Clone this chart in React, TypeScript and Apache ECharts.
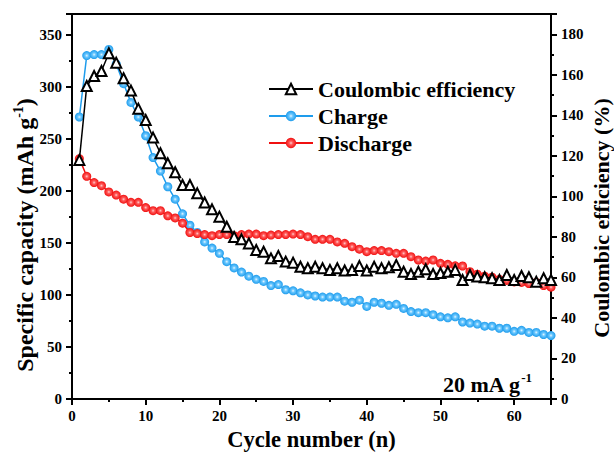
import React, { useEffect, useRef } from "react";
import * as echarts from "echarts";

const cycles = [1,2,3,4,5,6,7,8,9,10,11,12,13,14,15,16,17,18,19,20,21,22,23,24,25,26,27,28,29,30,31,32,33,34,35,36,37,38,39,40,41,42,43,44,45,46,47,48,49,50,51,52,53,54,55,56,57,58,59,60,61,62,63,64,65];

const charge = [271,330,331,331,336,322,303,285,271,253,232,219,204,192,178,167,160,151,145,140,132,126,122,118,115,113,109,110,105,104,102,100,99,98,98,98,94,93,95,89,93,92,90,91,87,84,83,83,81,79,78,79,74,73,72,70,70,68,68,65,66,64,64,62,61];

const discharge = [231,214,208,205,199,196,192,189,189,184,181,181,176,174,169,160,159,158,157,158,158,157,158,158.5,158.5,157,157.5,158,158,158.5,158,156,153.5,153.5,153.5,151,149.6,146.4,144,141.6,142.6,142.6,141.6,140,140,136.8,133.6,132.6,133.6,130.4,129.4,128,127.8,122.4,120,118,117,115,114,112.5,112,111,112,109,107.5];

const coulombic = [118,154.5,159.4,161.9,170.6,166,158.3,152.2,143.3,137.7,129,121.3,116.3,111.9,105.6,105.6,101.5,97,93.6,90,85,80,78.8,76.8,73.5,72.7,69.4,70.6,67.8,67.3,65.3,64.5,65.3,64.5,63.7,64.5,63.4,63.7,65.6,63.4,65.3,64.5,65,66.1,62.8,61.7,62.8,64,61.7,62.2,62.8,63.7,58.7,61.2,60.4,60.1,59.6,58.7,61.2,58.7,60.7,60.1,57.9,59.6,58.7];

const FONT = "Liberation Serif";

export default function App() {
  const ref = useRef<HTMLDivElement>(null);
  useEffect(() => {
    if (!ref.current) return;
    const chart = echarts.init(ref.current, null, { renderer: "svg" });
    const blueGrad = {
      type: "radial", x: 0.5, y: 0.5, r: 0.5,
      colorStops: [
        { offset: 0, color: "#e8f6ff" },
        { offset: 0.35, color: "#6cc8ff" },
        { offset: 1, color: "#1e9cec" },
      ],
    };
    const redGrad = {
      type: "radial", x: 0.5, y: 0.5, r: 0.5,
      colorStops: [
        { offset: 0, color: "#ffd0d0" },
        { offset: 0.35, color: "#ff5a5a" },
        { offset: 1, color: "#f01010" },
      ],
    };
    const toPairs = (arr: number[]) => cycles.map((c, i) => [c, arr[i]]);
    const labelStyle = { color: "#000", fontFamily: FONT, fontWeight: "bold", fontSize: 15 };
    const bigRich = {
      a: { fontFamily: FONT, fontWeight: "bold", fontSize: 22, fill: "#000", lineHeight: 26 },
      b: { fontFamily: FONT, fontWeight: "bold", fontSize: 13, fill: "#000", verticalAlign: "top", lineHeight: 26 },
    };
    const leftRich = {
      a: { fontFamily: FONT, fontWeight: "bold", fontSize: 24, fill: "#000", lineHeight: 28 },
      b: { fontFamily: FONT, fontWeight: "bold", fontSize: 14, fill: "#000", verticalAlign: "top", lineHeight: 28 },
    };
    const axisCommon = {
      axisLine: { show: true, lineStyle: { color: "#000", width: 2 } },
      axisTick: { show: true, inside: false, length: 6, lineStyle: { color: "#000", width: 2 } },
      minorTick: { show: true, splitNumber: 2, length: 3, lineStyle: { color: "#000", width: 2 } },
      splitLine: { show: false },
    };
    chart.setOption({
      animation: false,
      backgroundColor: "#fff",
      grid: {
        left: 72, right: 63, top: 14, bottom: 56,
        show: true, borderColor: "#000", borderWidth: 2,
        outerBoundsMode: "none",
      },
      legend: {
        orient: "vertical",
        left: 263,
        top: 73,
        itemWidth: 44,
        itemHeight: 13,
        itemGap: 5,
        data: ["Coulombic efficiency", "Charge", "Discharge"],
        textStyle: { fontFamily: FONT, fontWeight: "bold", fontSize: 22, color: "#000", lineHeight: 22 },
      },
      xAxis: {
        type: "value",
        min: 0, max: 65, interval: 10,
        name: "Cycle number (n)",
        nameLocation: "middle",
        nameGap: 29,
        nameTextStyle: { fontFamily: FONT, fontWeight: "bold", fontSize: 22.5, color: "#000" },
        ...axisCommon,
        axisLabel: { ...labelStyle, margin: 9, showMaxLabel: false },
      },
      yAxis: [
        {
          type: "value",
          min: 0, max: 370, interval: 50,
          position: "left",
          ...axisCommon,
          axisLabel: { ...labelStyle, margin: 10, showMaxLabel: false },
        },
        {
          type: "value",
          min: 0, max: 190, interval: 20,
          position: "right",
          ...axisCommon,
          axisLabel: { ...labelStyle, margin: 10, showMaxLabel: false },
        },
      ],
      graphic: [
        {
          type: "text",
          x: 25,
          y: 235,
          rotation: Math.PI / 2,
          style: {
            text: "{a|Specific capacity (mAh g}{b|-1}{a|)}",
            rich: leftRich,
            align: "center",
            verticalAlign: "middle",
          },
        },
        {
          type: "text",
          x: 601,
          y: 218,
          rotation: Math.PI / 2,
          style: {
            text: "Coulombic efficiency (%)",
            fontFamily: FONT,
            fontWeight: "bold",
            fontSize: 22,
            fill: "#000",
            align: "center",
            verticalAlign: "middle",
          },
        },
        {
          type: "text",
          left: 443,
          top: 371,
          style: {
            text: "{a|20 mA g}{b|-1}",
            rich: bigRich,
          },
        },
      ],
      series: [
        {
          name: "Charge",
          type: "line",
          yAxisIndex: 0,
          data: toPairs(charge),
          symbol: "circle",
          symbolSize: 9,
          itemStyle: { color: blueGrad },
          lineStyle: { color: "#1e9cec", width: 1.5 },
          z: 2,
        },
        {
          name: "Discharge",
          type: "line",
          yAxisIndex: 0,
          data: toPairs(discharge),
          symbol: "circle",
          symbolSize: 9,
          itemStyle: { color: redGrad },
          lineStyle: { color: "#f01010", width: 1.5 },
          z: 3,
        },
        {
          name: "Coulombic efficiency",
          type: "line",
          yAxisIndex: 1,
          data: toPairs(coulombic),
          symbol: "emptyTriangle",
          symbolSize: 10,
          itemStyle: { color: "#000", borderWidth: 1.5 },
          lineStyle: { color: "#000", width: 1.5 },
          z: 4,
        },
      ],
    });
    return () => chart.dispose();
  }, []);
  return (
    <div
      ref={ref}
      style={{ position: "fixed", left: 0, top: 0, width: 614, height: 455 }}
    />
  );
}
